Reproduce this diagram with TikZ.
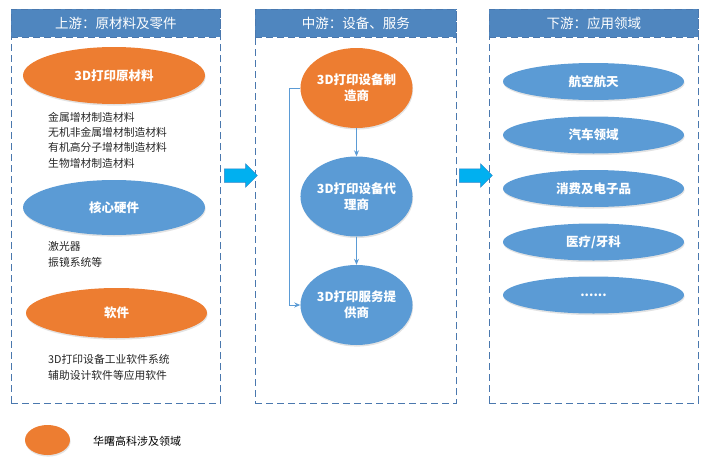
\documentclass[tikz,border=0pt]{standalone}
\usepackage{fontspec}
\setmainfont{Noto Sans CJK SC}
\usetikzlibrary{shapes.geometric,shapes.arrows,shadows,arrows.meta}
\definecolor{orgc}{HTML}{ED7D31}
\definecolor{bluec}{HTML}{5B9BD5}
\definecolor{headc}{HTML}{4F86BF}
\definecolor{borderc}{HTML}{4A78AE}
\definecolor{arrowc}{HTML}{00B0F0}
\definecolor{arrowb}{HTML}{2E86C8}
\definecolor{textc}{HTML}{262626}
\tikzset{
  panel/.style={draw=borderc, line width=0.9pt, dash pattern=on 7pt off 4pt, anchor=north west, minimum width=209pt, minimum height=394pt, inner sep=0pt},
  header/.style={fill=headc, draw=borderc, line width=0.9pt, dash pattern=on 7pt off 4pt, anchor=north west, minimum width=209pt, minimum height=28pt, inner sep=0pt, text=white, font=\fontsize{13.5pt}{16pt}\selectfont},
  oval/.style={ellipse, inner sep=0pt, text=white, font=\bfseries\fontsize{12.5pt}{16pt}\selectfont, align=center, drop shadow={opacity=0.22, shadow xshift=0.6pt, shadow yshift=-1.6pt}},
  orgoval/.style={oval, fill=orgc},
  blueoval/.style={oval, fill=bluec},
  body/.style={anchor=west, align=left, text=textc, inner sep=0pt, font=\fontsize{10.8pt}{15.3pt}\selectfont},
  blockarrow/.style={single arrow, fill=arrowc, draw=arrowb, line width=0.5pt, minimum height=33pt, inner xsep=0pt, inner ysep=6.5pt, single arrow head extend=5pt},
  conn/.style={draw=bluec, line width=0.9pt, -{Stealth[length=6pt,width=5pt]}}
}
\begin{document}
\begin{tikzpicture}[x=1pt,y=-1pt]
\useasboundingbox (0,0) rectangle (713,461);
% panels
\node[panel] (p1) at (11,9) {};
\node[panel, minimum width=201pt] (p2) at (255,9) {};
\node[panel] (p3) at (489,9) {};
\node[header] (h1) at (11,9) {上游：原材料及零件};
\node[header, minimum width=201pt] (h2) at (255,9) {中游：设备、服务};
\node[header] (h3) at (489,9) {下游：应用领域};
% left panel
\node[orgoval, minimum width=182pt, minimum height=57pt] (l1) at (114,75.5) {3D打印原材料};
\node[body] (t1) at (48,140) {金属增材制造材料\\无机非金属增材制造材料\\有机高分子增材制造材料\\生物增材制造材料};
\node[blueoval, minimum width=182pt, minimum height=55pt] (l2) at (114,207.5) {核心硬件};
\node[body] (t2) at (48,254.5) {激光器\\振镜系统等};
\node[orgoval, minimum width=181pt, minimum height=50pt] (l3) at (116.5,313) {软件};
\node[body] (t3) at (48,367.5) {3D打印设备工业软件系统\\辅助设计软件等应用软件};
% middle panel
\node[orgoval, minimum width=105pt, minimum height=80pt] (m1) at (356.5,88) {3D打印设备制\\造商};
\node[blueoval, minimum width=105pt, minimum height=80pt] (m2) at (356.5,196.5) {3D打印设备代\\理商};
\node[blueoval, minimum width=105pt, minimum height=80pt] (m3) at (356.5,305) {3D打印服务提\\供商};
\draw[conn] (m1) -- (m2);
\draw[conn] (m2) -- (m3);
\draw[conn] (m1.west) -- ++(-11,0) |- (m3.west);
% right panel
\node[blueoval, minimum width=181pt, minimum height=37pt] (r1) at (593.5,81.5) {航空航天};
\node[blueoval, minimum width=181pt, minimum height=37pt] (r2) at (593.5,135) {汽车领域};
\node[blueoval, minimum width=181pt, minimum height=37pt] (r3) at (593.5,188.5) {消费及电子品};
\node[blueoval, minimum width=181pt, minimum height=37pt] (r4) at (593.5,242) {医疗/牙科};
\node[blueoval, minimum width=181pt, minimum height=37pt] (r5) at (593.5,295) {......};
% block arrows
\node[blockarrow] (a1) at (237.5,175.5) {};
\node[blockarrow] (a2) at (472.5,175.5) {};
% legend
\node[orgoval, minimum width=45pt, minimum height=30pt] (lg) at (47.5,440) {};
\node[body, text=black, font=\fontsize{11pt}{14pt}\selectfont] (lgt) at (93,441) {华曙高科涉及领域};
\end{tikzpicture}
\end{document}
